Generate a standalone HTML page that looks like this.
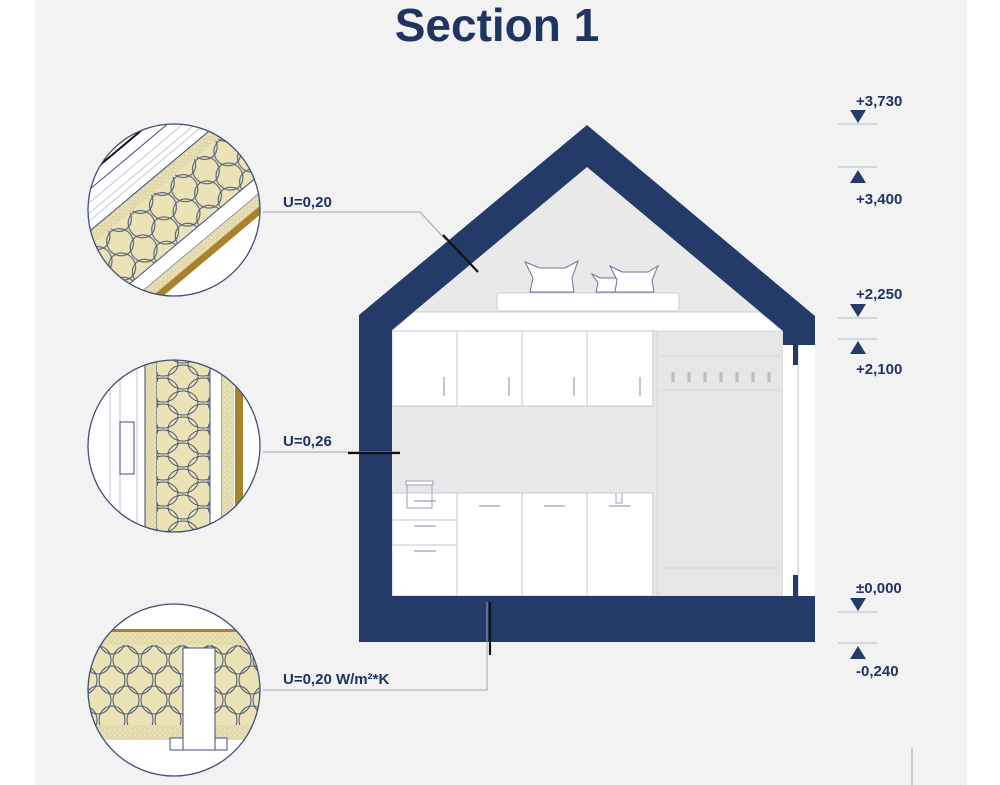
<!DOCTYPE html>
<html><head><meta charset="utf-8"><style>
html,body{margin:0;padding:0;background:#fff;}
svg{display:block;}
text{font-family:"Liberation Sans",sans-serif;fill:#1f3461;}
</style></head><body>
<svg width="1000" height="785" viewBox="0 0 1000 785" xmlns="http://www.w3.org/2000/svg">
<defs>
<pattern id="big" width="28" height="40" patternUnits="userSpaceOnUse">
<rect width="28" height="40" fill="#ebe2b6"/>
<g fill="none" stroke="#4a5878" stroke-width="1">
<ellipse cx="14" cy="20" rx="13" ry="14"/>
<ellipse cx="0" cy="0" rx="13" ry="14"/><ellipse cx="28" cy="0" rx="13" ry="14"/>
<ellipse cx="0" cy="40" rx="13" ry="14"/><ellipse cx="28" cy="40" rx="13" ry="14"/>
</g>
</pattern>
<pattern id="bigw" width="40" height="26" patternUnits="userSpaceOnUse" x="163" y="0">
<rect width="40" height="26" fill="#ebe2b6"/>
<g fill="none" stroke="#4a5878" stroke-width="1">
<ellipse cx="20" cy="13" rx="15" ry="12"/>
<ellipse cx="0" cy="0" rx="15" ry="12"/><ellipse cx="40" cy="0" rx="15" ry="12"/>
<ellipse cx="0" cy="26" rx="15" ry="12"/><ellipse cx="40" cy="26" rx="15" ry="12"/>
</g>
</pattern>
<pattern id="small" width="5" height="5" patternUnits="userSpaceOnUse">
<rect width="5" height="5" fill="#ebe2b6"/>
<circle cx="2.5" cy="2.5" r="1.8" fill="none" stroke="#c9bf94" stroke-width="0.5"/>
</pattern>
<clipPath id="c1"><circle cx="174" cy="210" r="86"/></clipPath>
<clipPath id="c2"><circle cx="174" cy="446" r="86"/></clipPath>
<clipPath id="c3"><circle cx="174" cy="690" r="86"/></clipPath>
</defs>
<rect x="35" y="0" width="932" height="785" fill="#f2f2f2"/>
<text x="497" y="41" font-size="46" font-weight="bold" text-anchor="middle">Section 1</text>

<!-- House interior -->
<polygon points="587,167 783,331 783,596 392,596 392,330" fill="#e9e9e9"/>
<polygon points="413,312 760,312 783,331 392,331" fill="#fff" stroke="#c9ccd6" stroke-width="1"/>
<rect x="497" y="293" width="182" height="18" rx="3" fill="#fff" stroke="#c9ccd6"/>
<path d="M525 262 L540 268 L565 268 L578 261 L572 278 L574 292 L530 292 L533 278Z" fill="#fff" stroke="#6b7696"/>
<path d="M592 274 L600 278 L618 278 L620 285 L622 292 L596 292 L598 283Z" fill="#fff" stroke="#6b7696"/>
<path d="M610 266 L622 272 L648 272 L658 266 L652 280 L654 292 L615 292 L617 280Z" fill="#fff" stroke="#6b7696"/>
<g fill="#fff" stroke="#c3c8d6">
<rect x="392" y="331" width="65" height="75"/><rect x="457" y="331" width="65" height="75"/>
<rect x="522" y="331" width="65" height="75"/><rect x="587" y="331" width="66" height="75"/>
<rect x="392" y="493" width="65" height="27"/><rect x="392" y="520" width="65" height="25"/><rect x="392" y="545" width="65" height="51"/>
<rect x="457" y="493" width="65" height="103"/><rect x="522" y="493" width="65" height="103"/><rect x="587" y="493" width="66" height="103"/>
</g>
<g stroke="#9aa2ba" stroke-width="1.2">
<line x1="444" y1="377" x2="444" y2="396"/><line x1="509" y1="377" x2="509" y2="396"/><line x1="574" y1="377" x2="574" y2="396"/><line x1="640" y1="377" x2="640" y2="396"/>
<line x1="414" y1="501" x2="436" y2="501"/><line x1="414" y1="526" x2="436" y2="526"/><line x1="414" y1="551" x2="436" y2="551"/>
<line x1="479" y1="506" x2="500" y2="506"/><line x1="544" y1="506" x2="565" y2="506"/><line x1="609" y1="506" x2="630" y2="506"/>
</g>
<rect x="407" y="484" width="25" height="24" fill="none" stroke="#9aa2ba"/>
<rect x="406" y="481" width="27" height="4" fill="#fff" stroke="#9aa2ba"/>
<rect x="616" y="493" width="6" height="10" fill="#fff" stroke="#9aa2ba"/>
<line x1="392" y1="493" x2="653" y2="493" stroke="#c3c8d6"/>
<rect x="657" y="331" width="126" height="265" fill="#e6e6e6" stroke="#d2d5de"/>
<line x1="660" y1="356" x2="780" y2="356" stroke="#d2d5de"/>
<line x1="660" y1="390" x2="780" y2="390" stroke="#d2d5de"/>
<line x1="660" y1="568" x2="780" y2="568" stroke="#d2d5de"/>
<g stroke="#b8bccb" stroke-width="3">
<line x1="673" y1="372" x2="673" y2="382"/><line x1="689" y1="372" x2="689" y2="382"/><line x1="705" y1="372" x2="705" y2="382"/><line x1="721" y1="372" x2="721" y2="382"/><line x1="737" y1="372" x2="737" y2="382"/><line x1="753" y1="372" x2="753" y2="382"/><line x1="769" y1="372" x2="769" y2="382"/>
</g>
<rect x="783" y="345" width="32" height="251" fill="#fff"/>
<line x1="798" y1="345" x2="798" y2="596" stroke="#c3c8d6"/>
<path fill="#243a69" fill-rule="evenodd" d="M587,125 L815,316 L815,345 L798,345 L798,365 L793,365 L793,345 L783,345 L783,331 L587,167 L392,330 L392,596 L793,596 L793,575 L798,575 L798,596 L815,596 L815,642 L359,642 L359,315 Z"/>

<g fill="none" stroke="#9aa2ba" stroke-width="1">
<polyline points="263,212 420,212 446,240"/>
<line x1="263" y1="452" x2="400" y2="452"/>
<polyline points="263,690 487,690 487,602"/>
</g>
<g stroke="#111" stroke-width="2.2">
<line x1="443" y1="235" x2="478" y2="272"/>
<line x1="348" y1="453" x2="400" y2="453"/>
<line x1="490" y1="602" x2="490" y2="655"/>
</g>
<g font-size="15" font-weight="bold">
<text x="283" y="207">U=0,20</text>
<text x="283" y="446">U=0,26</text>
<text x="283" y="684">U=0,20 W/m²*K</text>
</g>

<!-- circle 1: roof -->
<g clip-path="url(#c1)">
<rect x="80" y="120" width="190" height="180" fill="#fff"/>
<g transform="rotate(-40 174 210)">
<rect x="40" y="172" width="280" height="12" fill="url(#small)"/>
<rect x="40" y="184" width="280" height="54" fill="url(#big)"/>
<rect x="40" y="238" width="280" height="14" fill="#fff" stroke="#3f4f78"/>
<rect x="40" y="252" width="280" height="10" fill="url(#small)"/>
<rect x="40" y="262" width="280" height="7" fill="#a9822f"/>
<rect x="40" y="269" width="280" height="40" fill="#fff"/>
<g stroke="#c3c8d6" fill="none"><line x1="40" y1="150" x2="320" y2="150"/><line x1="40" y1="158" x2="320" y2="158"/><line x1="40" y1="164" x2="320" y2="164"/></g>
<line x1="40" y1="128" x2="320" y2="128" stroke="#111" stroke-width="2"/>
<line x1="40" y1="140" x2="320" y2="140" stroke="#3f4f78"/>
<line x1="40" y1="172" x2="320" y2="172" stroke="#3f4f78"/>
</g>
</g>
<circle cx="174" cy="210" r="86" fill="none" stroke="#3f4f78" stroke-width="1.3"/>
<!-- circle 2: wall -->
<g clip-path="url(#c2)">
<rect x="85" y="355" width="180" height="185" fill="#fff"/>
<g stroke="#c3c8d6" fill="none"><line x1="110" y1="355" x2="110" y2="540"/><line x1="120" y1="355" x2="120" y2="540"/><line x1="137" y1="355" x2="137" y2="540"/></g>
<rect x="120" y="422" width="14" height="52" fill="#fff" stroke="#3f4f78"/>
<rect x="145" y="355" width="12" height="185" fill="url(#small)" stroke="#3f4f78"/>
<rect x="157" y="355" width="53" height="185" fill="url(#bigw)"/>
<rect x="210" y="355" width="12" height="185" fill="#fff" stroke="#3f4f78"/>
<rect x="222" y="355" width="12" height="185" fill="url(#small)"/>
<rect x="235" y="355" width="8" height="185" fill="#a9822f"/>
</g>
<circle cx="174" cy="446" r="86" fill="none" stroke="#3f4f78" stroke-width="1.3"/>
<!-- circle 3: floor -->
<g clip-path="url(#c3)">
<rect x="85" y="600" width="180" height="185" fill="#fff"/>
<rect x="85" y="629" width="180" height="3" fill="#a9822f"/>
<rect x="85" y="632" width="180" height="13" fill="url(#small)"/>
<rect x="85" y="645" width="180" height="80" fill="url(#big)"/>
<rect x="85" y="725" width="180" height="15" fill="url(#small)"/>
<rect x="170" y="738" width="57" height="12" fill="#fff" stroke="#3f4f78"/>
<rect x="183" y="648" width="32" height="102" fill="#fff" stroke="#3f4f78"/>
</g>
<circle cx="174" cy="690" r="86" fill="none" stroke="#3f4f78" stroke-width="1.3"/>

<g stroke="#b5bac8" stroke-width="1">
<line x1="838" y1="124" x2="877" y2="124"/><line x1="838" y1="167" x2="877" y2="167"/>
<line x1="838" y1="318" x2="877" y2="318"/><line x1="838" y1="339" x2="877" y2="339"/>
<line x1="838" y1="612" x2="877" y2="612"/><line x1="838" y1="643" x2="877" y2="643"/>
</g>
<g fill="#243a69">
<polygon points="850,110 866,110 858,123"/><polygon points="850,183 866,183 858,170"/>
<polygon points="850,304 866,304 858,317"/><polygon points="850,354 866,354 858,341"/>
<polygon points="850,598 866,598 858,611"/><polygon points="850,659 866,659 858,646"/>
</g>
<g font-size="15" font-weight="bold">
<text x="856" y="106">+3,730</text><text x="856" y="204">+3,400</text>
<text x="856" y="299">+2,250</text><text x="856" y="374">+2,100</text>
<text x="856" y="593">±0,000</text><text x="856" y="676">-0,240</text>
</g>
<line x1="912" y1="748" x2="912" y2="785" stroke="#9aa2ba"/>
</svg>
</body></html>
